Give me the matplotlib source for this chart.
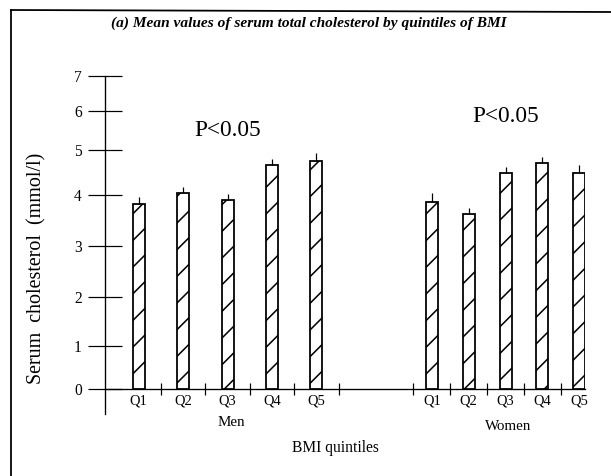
import numpy as np
import matplotlib
matplotlib.use('Agg')
import matplotlib.pyplot as plt
from matplotlib.lines import Line2D

plt.rcParams['font.family'] = 'Liberation Serif'
plt.rcParams['hatch.linewidth'] = 1.4

# mean serum cholesterol (mmol/l) and upper error by BMI quintile
quintiles = ['Q1', 'Q2', 'Q3', 'Q4', 'Q5']
men_mean = [3.82, 4.04, 3.90, 4.67, 4.76]
men_err = [0.14, 0.13, 0.12, 0.13, 0.17]
women_mean = [3.87, 3.62, 4.50, 4.72, 4.50]
women_err = [0.17, 0.13, 0.13, 0.13, 0.16]
y_ticks = [0, 1, 2, 3, 4, 5, 6, 7]

# the printed axis is not evenly spaced: height of each tick above the baseline
axis_vals = np.array([-1, 0, 1, 2, 3, 4, 5, 6, 7, 8])
axis_hgt = np.array([-43, 0, 43, 92, 143, 194, 239, 278, 313, 348], dtype=float)


def forward(v):
    return np.interp(v, axis_vals, axis_hgt)


def inverse(h):
    return np.interp(h, axis_hgt, axis_vals)


fig = plt.figure(figsize=(611 / 80, 476 / 80), dpi=80)
ax = fig.add_axes([105 / 611, 1 - 414 / 476, 480 / 611, 338 / 476])
ax.set_yscale('function', functions=(forward, inverse))

men_x = np.arange(5) * 1.0
women_x = 6.6 + np.arange(5) * 0.83
bw = 0.27

for xs, means, errs in [(men_x, men_mean, men_err), (women_x, women_mean, women_err)]:
    ax.bar(xs, means, width=bw, color='white', edgecolor='black', linewidth=1.6,
           hatch='/', zorder=3)
    ax.errorbar(xs, means, yerr=[np.zeros(5), errs], fmt='none', ecolor='black',
                elinewidth=1.1, capsize=0, zorder=4)

ax.set_xlim(-0.761, 10.05)
ax.set_ylim(-0.58, 7)

for s in ['top', 'right']:
    ax.spines[s].set_visible(False)
ax.spines['bottom'].set_position(('data', 0))
ax.spines['bottom'].set_linewidth(1.2)
ax.spines['left'].set_linewidth(1.2)

ax.set_yticks(y_ticks)
ax.set_yticklabels([str(t) for t in y_ticks], fontsize=14)
ax.tick_params(axis='y', direction='inout', length=30, width=1.1, pad=6)

ax.set_xticks(np.concatenate([men_x, women_x]))
ax.set_xticklabels(quintiles + quintiles, fontsize=13)
ax.set_xticks(np.concatenate([men_x + 0.5, women_x - 0.415]), minor=True)
ax.tick_params(axis='x', which='major', length=0, pad=5)
ax.tick_params(axis='x', which='minor', direction='inout', length=11, width=1.1)

ax.text(men_x.mean(), 5.5, 'P<0.05', ha='center', va='center', fontsize=21)
ax.text(women_x.mean(), 5.85, 'P<0.05', ha='center', va='center', fontsize=21)

fig.text(231 / 611, 1 - 423 / 476, 'Men', ha='center', va='center', fontsize=13.5)
fig.text(508 / 611, 1 - 427 / 476, 'Women', ha='center', va='center', fontsize=13.5)
fig.text(335 / 611, 1 - 448 / 476, 'BMI quintiles', ha='center', va='center', fontsize=14)
fig.text(37 / 611, 1 - 268 / 476, 'Serum  cholesterol  (mmol/l)', rotation=90,
         ha='center', va='center', fontsize=18)

fig.text(309 / 611, 1 - 23 / 476,
         '(a) Mean values of serum total cholesterol by quintiles of BMI',
         ha='center', va='center', fontsize=13.9, style='italic', weight='bold')

# frame around the panel
fig.add_artist(Line2D([11 / 611, 1.0], [1 - 10 / 476, 1 - 12 / 476], color='black',
                      linewidth=1.6, transform=fig.transFigure))
fig.add_artist(Line2D([11 / 611, 11 / 611], [1 - 10 / 476, 0.0], color='black',
                      linewidth=1.6, transform=fig.transFigure))

fig.savefig('out.png', dpi=80)
